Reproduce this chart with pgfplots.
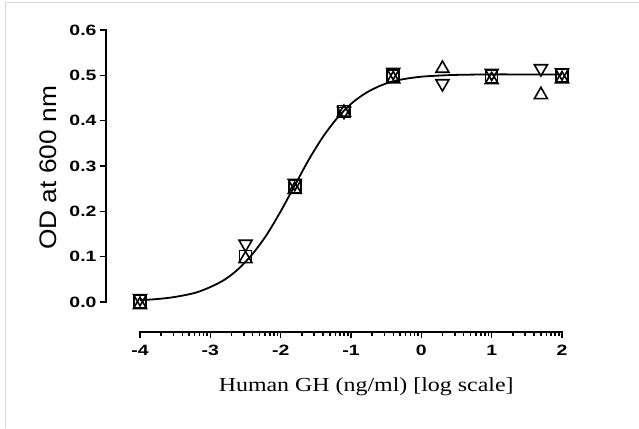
\documentclass[border=0pt]{standalone}
\usepackage{fontspec}
\setmainfont{Liberation Sans}
\newfontfamily\labserif{Liberation Serif}
\usepackage{graphicx}
\usepackage{pgfplots}
\pgfplotsset{compat=1.18}
\newcommand{\tl}[1]{\scalebox{1.3}[1]{\bfseries #1}}
\begin{document}
\begin{tikzpicture}[x=1bp,y=1bp]
\useasboundingbox (0,0) rectangle (639,428);
\draw[black!15, line width=1bp] (5,0) -- (5,425) -- (639,425);
\begin{axis}[
  at={(140bp,126bp)}, anchor=south west,
  width=422bp, height=272bp, scale only axis,
  xmin=-4, xmax=2, ymin=0, ymax=0.6,
  clip=false,
  axis x line*=bottom, axis y line*=left,
  axis x line shift=30bp, axis y line shift=34bp,
  axis line style={draw=none},
  xtick={-4,-3,-2,-1,0,1,2},
  xticklabels={\tl{-4},\tl{-3},\tl{-2},\tl{-1},\tl{0},\tl{1},\tl{2}},
  ytick={0,0.1,0.2,0.3,0.4,0.5,0.6},
  yticklabels={\tl{0.0},\tl{0.1},\tl{0.2},\tl{0.3},\tl{0.4},\tl{0.5},\tl{0.6}},
  minor xtick={-3.699,-3.523,-3.398,-3.301,-3.222,-3.155,-3.097,-3.046,
    -2.699,-2.523,-2.398,-2.301,-2.222,-2.155,-2.097,-2.046,
    -1.699,-1.523,-1.398,-1.301,-1.222,-1.155,-1.097,-1.046,
    -0.699,-0.523,-0.398,-0.301,-0.222,-0.155,-0.097,-0.046,
    0.301,0.477,0.602,0.699,0.778,0.845,0.903,0.954,
    1.301,1.477,1.602,1.699,1.778,1.845,1.903,1.954},
  tick align=outside,
  major tick length=6bp, minor tick length=3.5bp,
  every tick/.style={black, line width=1.5bp},
  tick label style={font=\fontsize{15}{15}\selectfont},
  x tick label style={yshift=-4bp},
  every axis x label/.style={at={(rel axis cs:0.536,0)}, anchor=center, yshift=-85bp},
  every axis y label/.style={at={(rel axis cs:-0.218,0.493)}, rotate=90, anchor=center},
  xlabel={\scalebox{1.2}[1]{\labserif\fontsize{20}{24}\selectfont Human GH (ng/ml) [log scale]}},
  ylabel={\scalebox{1.1}[1]{\fontsize{24}{28}\selectfont OD at 600 nm}},
]
% detached axis lines (GraphPad style)
\draw[line width=1.8bp, line cap=rect] ([xshift=-34bp]axis cs:-4,0) -- ([xshift=-34bp]axis cs:-4,0.6);
\draw[line width=1.8bp, line cap=rect] ([yshift=-30bp]axis cs:-4,0) -- ([yshift=-30bp]axis cs:2,0);
\addplot[black, line width=1.8bp, smooth, no marks] coordinates {
(-4,0.004) (-3.8,0.006) (-3.6,0.009) (-3.4,0.014) (-3.2,0.021) (-3.0,0.033)
(-2.8,0.049) (-2.6,0.073) (-2.4,0.106) (-2.2,0.148) (-2.0,0.200) (-1.8,0.257)
(-1.6,0.314) (-1.4,0.364) (-1.2,0.405) (-1.0,0.437) (-0.8,0.460) (-0.6,0.476)
(-0.4,0.487) (-0.2,0.493) (0,0.497) (0.2,0.499) (0.5,0.501) (1.0,0.502)
(1.5,0.502) (2.0,0.502)};
% series 1: open squares
\addplot[only marks, mark=square, mark size=6bp, mark options={line width=1.6bp, draw=black, fill=none}] coordinates {
(-4,0.001) (-2.5,0.100) (-1.8,0.255) (-1.1,0.420) (-0.4,0.498) (1.0,0.497) (2.0,0.500)};
% series 2: open triangles up
\addplot[only marks, mark=triangle, mark size=7.5bp, mark options={line width=1.6bp, draw=black, fill=none}] coordinates {
(-4,-0.006) (-2.5,0.095) (-1.8,0.248) (-1.1,0.418) (-0.4,0.492) (0.3,0.515) (1.0,0.490) (1.7,0.457) (2.0,0.492)};
% series 3: open triangles down
\addplot[only marks, mark=triangle, mark size=7.5bp, mark options={rotate=180, line width=1.6bp, draw=black, fill=none}] coordinates {
(-4,0.008) (-2.5,0.128) (-1.8,0.262) (-1.1,0.421) (-0.4,0.507) (0.3,0.482) (1.0,0.505) (1.7,0.515) (2.0,0.506)};
\end{axis}
\end{tikzpicture}
\end{document}
